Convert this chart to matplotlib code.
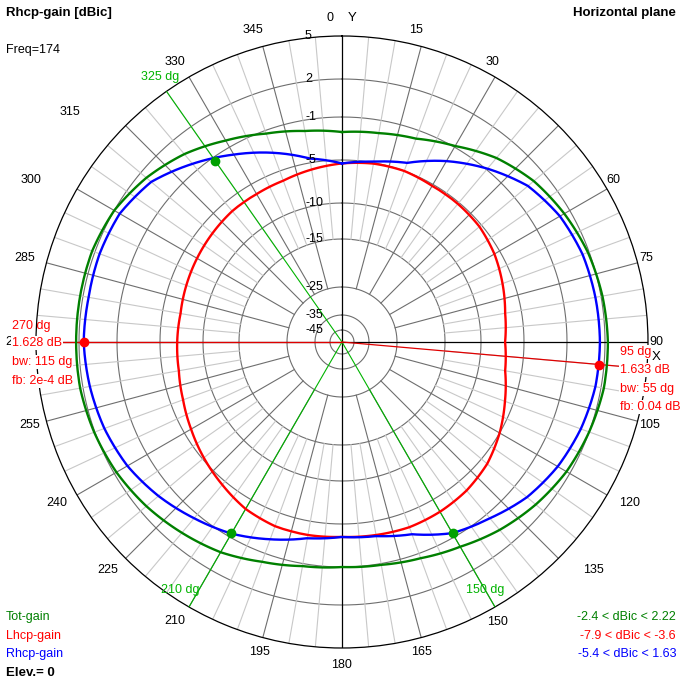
import numpy as np
import matplotlib
matplotlib.use('Agg')
import matplotlib.pyplot as plt
from matplotlib.transforms import offset_copy

plt.rcParams['font.family'] = ['Liberation Sans', 'DejaVu Sans']

# pattern data, dB vs azimuth (deg, clockwise from north)
angles = np.arange(0, 360, 10)
tot_gain = [-2.4, -2.2, -1.8, -0.9, 0.2, 1.0, 1.5, 1.9, 2.1, 2.2, 2.2, 2.0,
            1.7, 1.2, 0.6, -0.1, -0.6, -0.9, -1.0, -0.8, -0.3, 0.4, 0.9, 1.4,
            1.8, 2.05, 2.2, 2.2, 2.2, 2.2, 2.0, 1.4, 0.6, -0.4, -1.3, -2.0]
lhcp_gain = [-5.4, -5.1, -5.0, -5.2, -5.2, -5.3, -5.7, -6.3, -6.9, -7.2, -6.9, -6.0,
             -5.0, -4.3, -3.9, -3.7, -3.6, -3.7, -3.8, -3.7, -3.7, -4.0, -4.6, -5.2,
             -5.9, -6.5, -6.9, -7.0, -7.1, -6.9, -6.7, -6.5, -6.3, -6.3, -6.2, -5.8]
rhcp_gain = [-5.4, -4.9, -4.2, -2.5, -0.9, 0.4, 1.1, 1.45, 1.55, 1.6, 1.55, 1.3,
             0.9, 0.3, -0.6, -1.4, -2.9, -3.6, -3.8, -3.4, -2.4, -1.35, -0.6, 0.15,
             0.8, 1.2, 1.45, 1.63, 1.55, 1.6, 1.5, 0.9, -0.4, -1.8, -3.2, -4.6]

# lobe markers
max_ang = [270, 95]
max_db = [1.628, 1.633]
bw_ang = [325, 210, 150]
bw_db = [-1.37, -1.37, -1.37]

ring_db = [-45, -35, -25, -15, -10, -5, -1, 2]
ring_labels = ['5', '2', '-1', '-5', '-10', '-15', '-25', '-35', '-45']
ring_label_db = [5, 2, -1, -5, -10, -15, -25, -35, -45]
tick_ang = [0, 15, 30, 60, 75, 90, 105, 120, 135, 150, 165, 180, 195, 210,
            225, 240, 255, 270, 285, 300, 315, 330, 345]

# ARRL-like log radial scale (dB -> pixel radius)
scale_db = np.array([-55, -45, -35, -25, -15, -10, -5, -1, 2, 5])
scale_px = np.array([0, 12, 27, 55, 103, 139, 182, 225, 263, 306])


def fwd(v):
    return np.interp(v, scale_db, scale_px)


def inv(p):
    return np.interp(p, scale_px, scale_db)


GREEN = '#008000'
RED = '#ff0000'
BLUE = '#0000ff'
LGREEN = '#00b400'

fig = plt.figure(figsize=(6.82, 6.82), dpi=100)
ax = fig.add_axes([36 / 682, 34 / 682, 612 / 682, 612 / 682], projection='polar')
ax.set_theta_zero_location('N')
ax.set_theta_direction(-1)
ax.set_rscale('function', functions=(fwd, inv))
ax.set_rlim(-55, 5)
ax.set_xticks([])
ax.set_yticks([])
ax.grid(False)
ax.spines['polar'].set_color('black')
ax.spines['polar'].set_linewidth(0.9)

full = np.linspace(0, 2 * np.pi, 721)
for v in ring_db:
    ax.plot(full, np.full_like(full, v), color='#6e6e6e', lw=0.8, zorder=1)

for a in range(0, 360, 5):
    th = np.deg2rad(a)
    if a % 90 == 0:
        ax.plot([th, th], [-55, 5], color='black', lw=0.9, zorder=2)
    elif a % 15 == 0:
        ax.plot([th, th], [-25, 5], color='#6e6e6e', lw=0.8, zorder=1)
    else:
        ax.plot([th, th], [-15, 5], color='#c8c8c8', lw=0.8, zorder=1)

# bandwidth lines
for a in bw_ang:
    th = np.deg2rad(a)
    ax.plot([th, th], [-55, 5], color=LGREEN, lw=0.8, zorder=3)
# max lines
for a in max_ang:
    th = np.deg2rad(a)
    ax.plot([th, th], [-55, 5], color='#e00000', lw=0.9, zorder=3)

th = np.deg2rad(np.append(angles, 360))
for vals, col in [(tot_gain, GREEN), (lhcp_gain, RED), (rhcp_gain, BLUE)]:
    ln, = ax.plot(th, np.append(vals, vals[0]), color=col, lw=1.7, zorder=4)
    # draw segments as arcs in polar space
    ln.get_path()._interpolation_steps = 40

ax.plot(np.deg2rad(bw_ang), bw_db, 'o', color='#00a000', ms=6, zorder=5)
ax.plot(np.deg2rad(max_ang), max_db, 'o', color=RED, ms=6, zorder=5)

lab_tr = offset_copy(ax.transData, fig=fig, x=-37, y=0, units='dots')
for v, s in zip(ring_label_db, ring_labels):
    ax.text(0, v, s, transform=lab_tr, ha='left', va='center', fontsize=9,
            color='black', zorder=6, clip_on=False)

# overlay in pixel coordinates for annotation text
tx = fig.add_axes([0, 0, 1, 1], zorder=10)
tx.set_xlim(0, 682)
tx.set_ylim(682, 0)
tx.axis('off')
tx.patch.set_alpha(0)

tick_pos = {0: (330, 18), 15: (416, 30), 30: (493, 62), 60: (613, 180), 75: (646, 258),
            90: (656, 342), 105: (650, 425), 120: (630, 503), 135: (593, 570),
            150: (498, 622), 165: (421, 652), 180: (342, 665), 195: (260, 652),
            210: (175, 621), 225: (108, 570), 240: (57, 503), 255: (30, 425),
            270: (16, 342), 285: (25, 258), 300: (31, 180), 315: (70, 112),
            330: (175, 62), 345: (253, 30)}
for a in tick_ang:
    x, y = tick_pos[a]
    tx.text(x, y, str(a), ha='center', va='center', fontsize=9, color='black')
tx.text(352, 18, 'Y', ha='center', va='center', fontsize=9.5)
tx.text(656, 357, 'X', ha='center', va='center', fontsize=9.5)

tx.text(6, 13, 'Rhcp-gain [dBic]', ha='left', va='center', fontsize=9.5, weight='bold')
tx.text(676, 13, 'Horizontal plane', ha='right', va='center', fontsize=9.5, weight='bold')
tx.text(6, 50, 'Freq=174', ha='left', va='center', fontsize=9)

wb = dict(facecolor='white', edgecolor='none', pad=0.6)
tx.text(12, 326, f'{max_ang[0]} dg', color=RED, fontsize=9, ha='left', va='center')
tx.text(12, 343, f'{max_db[0]:.3f} dB', color=RED, fontsize=9, ha='left', va='center', bbox=wb)
tx.text(12, 362, 'bw: 115 dg', color=RED, fontsize=9, ha='left', va='center', bbox=wb)
tx.text(12, 381, 'fb: 2e-4 dB', color=RED, fontsize=9, ha='left', va='center', bbox=wb)
tx.text(620, 352, f'{max_ang[1]} dg', color=RED, fontsize=9, ha='left', va='center', bbox=wb)
tx.text(620, 370, f'{max_db[1]:.3f} dB', color=RED, fontsize=9, ha='left', va='center', bbox=wb)
tx.text(620, 389, 'bw: 55 dg', color=RED, fontsize=9, ha='left', va='center', bbox=wb)
tx.text(620, 407, 'fb: 0.04 dB', color=RED, fontsize=9, ha='left', va='center', bbox=wb)

tx.text(160, 77, '325 dg', color=LGREEN, fontsize=9, ha='center', va='center')
tx.text(180, 590, '210 dg', color=LGREEN, fontsize=9, ha='center', va='center')
tx.text(485, 590, '150 dg', color=LGREEN, fontsize=9, ha='center', va='center')

tx.text(6, 617, 'Tot-gain', color=GREEN, fontsize=9, ha='left', va='center')
tx.text(6, 636, 'Lhcp-gain', color=RED, fontsize=9, ha='left', va='center')
tx.text(6, 654, 'Rhcp-gain', color=BLUE, fontsize=9, ha='left', va='center')
tx.text(6, 673, 'Elev.= 0', color='black', fontsize=9.5, ha='left', va='center', weight='bold')

tx.text(676, 617, f'{min(tot_gain):.1f} < dBic < 2.22', color=GREEN, fontsize=9, ha='right', va='center')
tx.text(676, 636, '-7.9 < dBic < -3.6', color=RED, fontsize=9, ha='right', va='center')
tx.text(676, 654, '-5.4 < dBic < 1.63', color=BLUE, fontsize=9, ha='right', va='center')

fig.savefig('out.png', dpi=100)
